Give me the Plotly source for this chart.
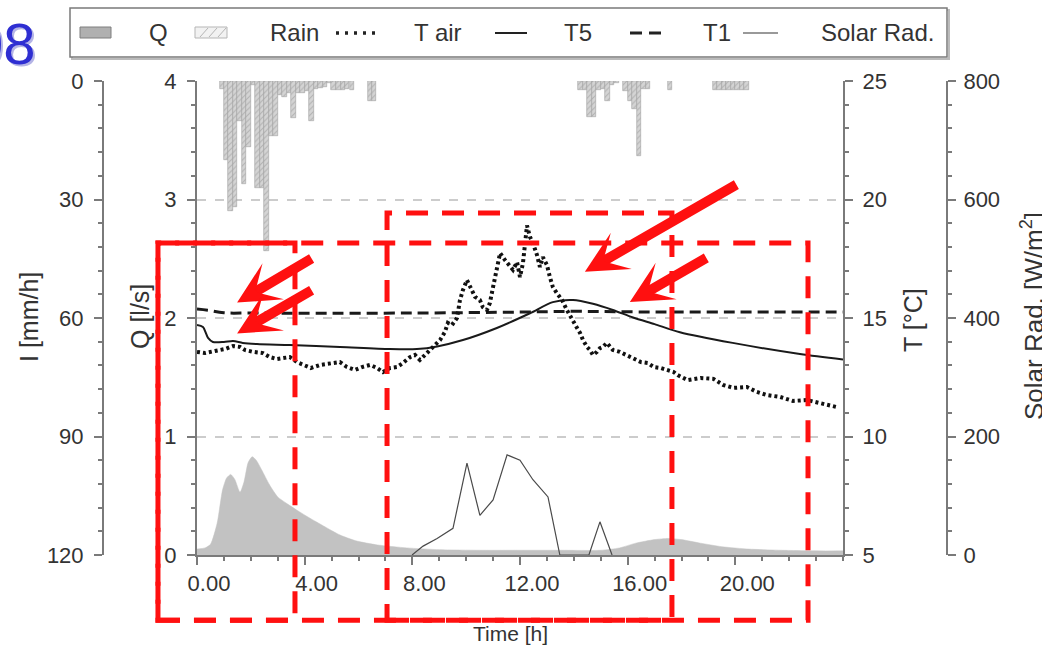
import plotly.graph_objects as go

# ---------------- data ----------------
# discharge Q [l/s]
q_t = [0, 0.3, 0.5, 0.75, 0.95, 1.1, 1.25, 1.4, 1.6, 1.75, 1.9, 2.05, 2.2, 2.4, 2.7,
       3.0, 3.3, 3.7, 4.2, 4.7, 5.3, 5.9, 6.7, 7.8, 9.0, 10.5, 12.0, 13.5, 15.0, 15.7,
       16.3, 17.0, 17.5, 18.0, 18.7, 19.5, 20.5, 21.7, 23.0, 24.0]
q_ls = [0.05, 0.06, 0.09, 0.27, 0.55, 0.65, 0.68, 0.64, 0.53, 0.62, 0.78, 0.83, 0.80, 0.72, 0.59,
        0.49, 0.44, 0.38, 0.31, 0.245, 0.17, 0.12, 0.085, 0.06, 0.045, 0.04, 0.04, 0.04, 0.04, 0.06,
        0.10, 0.13, 0.14, 0.13, 0.10, 0.07, 0.05, 0.04, 0.035, 0.035]

# rainfall intensity I [mm/h], 10-minute bins (bin centres)
rain_t = [0.92, 1.08, 1.25, 1.42, 1.58, 1.75, 1.92, 2.08, 2.25, 2.42, 2.58, 2.75, 2.92,
          3.08, 3.25, 3.42, 3.58, 3.75, 3.92, 4.08, 4.25, 4.42, 4.58, 4.75, 4.92, 5.08,
          5.25, 5.42, 5.58, 5.75, 6.42, 6.58,
          14.25, 14.42, 14.58, 14.75, 14.92, 15.08, 15.25, 15.42, 15.58, 15.92, 16.08,
          16.25, 16.42, 16.58, 16.75, 17.58,
          19.25, 19.42, 19.58, 19.75, 19.92, 20.08, 20.25, 20.42]
rain_mmh = [2, 20, 33, 32, 10, 26, 16.7, 1, 27, 27, 43, 14, 14,
            3.5, 4, 3, 9.4, 3, 3, 2.5, 10, 2, 1.8, 1.5, 0.5, 2.3,
            2.3, 2.3, 2, 2.3, 5, 5,
            2.3, 2.3, 9, 9, 2.3, 2, 5, 1, 0.5, 2.5, 5,
            7, 19, 2, 2, 2.3,
            2.3, 2.3, 2.3, 2.3, 2.3, 2.3, 2.3, 2.3]

# air temperature [°C]
tair_t = [0, 0.30, 0.67, 1.04, 1.34, 1.60, 1.78, 2.08, 2.45, 2.71, 2.97, 3.27, 3.45, 3.71,
          3.94, 4.23, 4.57, 4.94, 5.31, 5.57, 5.87, 6.13, 6.43, 6.69, 6.91, 7.17, 7.43, 7.65,
          7.91, 8.10, 8.28, 8.47, 8.66, 8.84, 9.03, 9.21, 9.32, 9.47, 9.66, 9.77, 9.88, 10.03,
          10.14, 10.33, 10.51, 10.62, 10.77, 10.88, 11.00, 11.14, 11.26, 11.44, 11.63, 11.74,
          11.89, 12.00, 12.11, 12.19, 12.26, 12.37, 12.48, 12.63, 12.74, 12.85, 13.00, 13.11,
          13.22, 13.37, 13.56, 13.74, 13.93, 14.12, 14.23, 14.34, 14.49, 14.60, 14.71, 14.86,
          14.97, 15.08, 15.23, 15.34, 15.45, 15.71, 15.97, 16.23, 16.49, 16.75, 16.97, 17.23,
          17.49, 17.71, 17.86, 18.23, 18.71, 19.19, 19.56, 19.93, 20.43, 20.80, 21.17, 21.66,
          22.14, 22.66, 23.14, 23.78]
tair_c = [13.57, 13.52, 13.61, 13.69, 13.82, 13.78, 13.65, 13.57, 13.52, 13.35, 13.27, 13.31,
          13.35, 13.14, 13.02, 12.89, 13.02, 13.10, 13.14, 12.93, 12.81, 12.93, 13.02, 12.89,
          12.72, 12.89, 12.93, 13.10, 13.35, 13.44, 13.23, 13.44, 13.65, 13.86, 14.07, 14.41,
          14.79, 14.70, 15.00, 15.76, 16.18, 16.60, 16.31, 15.89, 15.76, 15.46, 15.34, 15.63,
          16.31, 17.03, 17.74, 17.45, 17.15, 17.03, 17.36, 16.73, 17.32, 18.10, 18.90, 18.42,
          18.16, 17.66, 17.15, 17.57, 17.24, 16.73, 16.31, 16.05, 15.76, 15.34, 14.92, 14.58,
          14.37, 14.07, 13.78, 13.65, 13.44, 13.57, 13.73, 13.78, 13.95, 13.78, 13.65, 13.57,
          13.44, 13.31, 13.14, 13.10, 12.93, 12.89, 12.81, 12.72, 12.59, 12.38, 12.47, 12.43,
          12.17, 12.05, 12.09, 11.88, 11.75, 11.67, 11.50, 11.54, 11.41, 11.24]

# water temperature T5 [°C]
t5_t = [0, 0.22, 0.41, 0.59, 1.0, 1.34, 1.7, 2.23, 3.45, 5.31, 7.17, 8.17, 8.92, 9.88,
        11.14, 12.37, 13.22, 13.97, 14.71, 15.45, 16.2, 17.0, 17.94, 19.9, 22.4, 24.0]
t5_c = [14.70, 14.62, 14.16, 13.99, 13.99, 14.03, 13.95, 13.90, 13.86, 13.78, 13.69, 13.69,
        13.80, 14.07, 14.58, 15.20, 15.67, 15.76, 15.60, 15.34, 15.02, 14.74, 14.40, 13.95,
        13.48, 13.25]

# water temperature T1 [°C]
t1_t = [0, 0.4, 1.0, 2.0, 4.0, 8.0, 12.0, 14.0, 16.0, 20.0, 24.0]
t1_c = [15.38, 15.33, 15.22, 15.21, 15.20, 15.21, 15.25, 15.28, 15.26, 15.25, 15.25]

# solar radiation [W/m2]
sol_t = [7.99, 8.40, 8.92, 9.51, 10.03, 10.51, 11.00, 11.52, 12.00, 12.48, 13.04, 13.48,
         14.56, 14.97, 15.42]
sol_wm2 = [0, 15, 28, 45, 155, 67, 93, 169, 160, 127, 98, 0, 0, 56, 0]

time_ticks = [0, 4, 8, 12, 16, 20]

# ---------------- geometry ----------------
W, H = 1042, 649
ML, MR, MT, MB = 20, 10, 81, 94
PW, PH = W - ML - MR, H - MT - MB
T_MIN, T_MAX = 0, 24
Q_MAX = 4


def px_x(px):
    return (px - ML) / PW


def px_y(py):
    return (H - MB - py) / PH


XD = [px_x(197), px_x(843)]


def tx(t):
    return XD[0] + (t - T_MIN) / (T_MAX - T_MIN) * (XD[1] - XD[0])


def qy(q):
    return q / Q_MAX


FONT = "Liberation Sans, Arial, sans-serif"
TXT = "#333333"
AX = "#7a7a7a"

fig = go.Figure()

fig.add_trace(go.Scatter(
    x=q_t, y=q_ls, mode="lines", fill="tozeroy", fillcolor="#c2c2c2",
    line=dict(color="#c2c2c2", width=0.5, shape="spline", smoothing=0.6),
    yaxis="y", hoverinfo="skip"))

fig.add_trace(go.Bar(
    x=rain_t, y=rain_mmh, width=1 / 6, yaxis="y2",
    marker=dict(color="#d4d4d4", line=dict(color="#a0a0a0", width=0.6),
                pattern=dict(shape="/", fgcolor="#909090", size=4, solidity=0.28))))

fig.add_trace(go.Scatter(
    x=sol_t, y=sol_wm2, mode="lines", yaxis="y4",
    line=dict(color="#4a4a4a", width=1.2)))

fig.add_trace(go.Scatter(
    x=t1_t, y=t1_c, mode="lines", yaxis="y3",
    line=dict(color="#1a1a1a", width=3, dash="11px,6px", shape="spline")))

fig.add_trace(go.Scatter(
    x=t5_t, y=t5_c, mode="lines", yaxis="y3",
    line=dict(color="#1a1a1a", width=2, shape="spline", smoothing=0.8)))

fig.add_trace(go.Scatter(
    x=tair_t, y=tair_c, mode="lines", yaxis="y3",
    line=dict(color="#111111", width=4, dash="3px,3px")))

tick_font = dict(family=FONT, size=22, color=TXT)
common = dict(showline=True, linecolor=AX, linewidth=2, ticks="outside", ticklen=8,
              tickwidth=1.5, tickcolor=AX, tickfont=tick_font, zeroline=False)

fig.update_layout(
    width=W, height=H, margin=dict(l=ML, r=MR, t=MT, b=MB, autoexpand=False),
    paper_bgcolor="white", plot_bgcolor="white", showlegend=False,
    bargap=0,
    xaxis=dict(domain=XD, range=[T_MIN, T_MAX], tickvals=time_ticks, tickformat=".2f",
               showgrid=False, anchor="y", ticklabelshift=12,
               minor=dict(dtick=1, ticks="outside", ticklen=4, tickcolor=AX), **common),
    yaxis=dict(range=[0, Q_MAX], dtick=1, side="left", anchor="x", ticklabelstandoff=6,
               showgrid=True, gridcolor="#cccccc", gridwidth=1.5, griddash="dash",
               minor=dict(dtick=0.2, ticks="outside", ticklen=4, tickcolor=AX), **common),
    yaxis2=dict(range=[120, 0], dtick=30, overlaying="y", anchor="free",
                position=px_x(103), side="left", showgrid=False, ticklabelstandoff=6,
                minor=dict(dtick=6, ticks="outside", ticklen=4, tickcolor=AX), **common),
    yaxis3=dict(range=[5, 25], dtick=5, overlaying="y", anchor="x", side="right",
                showgrid=False, ticklabelstandoff=5,
                minor=dict(dtick=1, ticks="outside", ticklen=4, tickcolor=AX), **common),
    yaxis4=dict(range=[0, 800], dtick=200, overlaying="y", anchor="free",
                position=px_x(947), side="right", showgrid=False, ticklabelstandoff=3,
                minor=dict(dtick=40, ticks="outside", ticklen=4, tickcolor=AX), **common),
)

ann = []
shapes = []


def text_at(px, py, s, size, angle=0, color=TXT, xanchor="center"):
    ann.append(dict(x=px_x(px), y=px_y(py), xref="paper", yref="paper", text=s,
                    showarrow=False, textangle=angle, xanchor=xanchor, yanchor="middle",
                    font=dict(family=FONT, size=size, color=color)))


# axis titles
text_at(29, 317, "I [mm/h]", 25, -90)
text_at(140, 317, "Q [l/s]", 25, -90)
text_at(913, 320, "T [°C]", 25, -90)
text_at(1032, 316, "Solar Rad. [W/m<sup>2</sup>]", 26, -90)
text_at(510, 633, "Time [h]", 21)

# year mark in the corner
text_at(40, 46, "08", 58, color="#b4b4e6", xanchor="right")
text_at(38, 44, "08", 58, color="#2e2ed2", xanchor="right")

# legend frame
shapes.append(dict(type="rect", xref="paper", yref="paper", x0=px_x(72), x1=px_x(949),
                   y0=px_y(59), y1=px_y(10), line=dict(color="#bbbbbb", width=2)))
shapes.append(dict(type="rect", xref="paper", yref="paper", x0=px_x(70), x1=px_x(947),
                   y0=px_y(57), y1=px_y(8), line=dict(color="#7a7a7a", width=1.5),
                   fillcolor="white"))
LY = 33
shapes.append(dict(type="rect", xref="paper", yref="paper", x0=px_x(80), x1=px_x(111),
                   y0=px_y(38), y1=px_y(27), fillcolor="#b0b0b0",
                   line=dict(color="#7f7f7f", width=1)))
shapes.append(dict(type="rect", xref="paper", yref="paper", x0=px_x(195), x1=px_x(227),
                   y0=px_y(38), y1=px_y(27), fillcolor="#f2f2f2",
                   line=dict(color="#b5b5b5", width=1)))
for hx in (200, 209, 218):
    shapes.append(dict(type="line", xref="paper", yref="paper", x0=px_x(hx), x1=px_x(hx + 8),
                       y0=px_y(37), y1=px_y(28), line=dict(color="#b5b5b5", width=1)))
shapes.append(dict(type="line", xref="paper", yref="paper", x0=px_x(336), x1=px_x(377),
                   y0=px_y(LY), y1=px_y(LY), line=dict(color="#222", width=3.5, dash="3px,6px")))
shapes.append(dict(type="line", xref="paper", yref="paper", x0=px_x(495), x1=px_x(527),
                   y0=px_y(LY), y1=px_y(LY), line=dict(color="#222", width=2)))
shapes.append(dict(type="line", xref="paper", yref="paper", x0=px_x(630), x1=px_x(668),
                   y0=px_y(LY), y1=px_y(LY), line=dict(color="#222", width=3, dash="12px,7px")))
shapes.append(dict(type="line", xref="paper", yref="paper", x0=px_x(743), x1=px_x(778),
                   y0=px_y(LY), y1=px_y(LY), line=dict(color="#777", width=1.3)))
for cx, lab in ((158, "Q"), (294, "Rain"), (438, "T air"), (578, "T5"), (717, "T1"),
                (877, "Solar Rad.")):
    text_at(cx, LY, lab, 24)

# highlighted periods (time in h, Q in l/s)
RED = "#ff1010"
for t0, t1, q0, q1 in ((-1.45, 22.70, -0.55, 2.633),
                       (-1.45, 3.64, -0.55, 2.633),
                       (7.06, 17.645, -0.55, 2.886)):
    shapes.append(dict(type="rect", xref="paper", yref="paper",
                       x0=tx(t0), x1=tx(t1), y0=qy(q0), y1=qy(q1),
                       line=dict(color=RED, width=5, dash="22px,14px")))

# arrows: head position (h, l/s) and tail offset in px
for t, q, ax, ay in ((1.49, 2.13, 76, -45), (1.49, 1.87, 76, -44),
                     (14.41, 2.39, 153, -88), (16.08, 2.135, 78, -45)):
    ann.append(dict(x=tx(t), y=qy(q), xref="paper", yref="paper", text="", showarrow=True,
                    ax=ax, ay=ay, arrowcolor=RED, arrowwidth=10, arrowhead=3,
                    arrowsize=0.7, standoff=0))

fig.update_layout(annotations=ann, shapes=shapes)
fig.write_html("out.html")
